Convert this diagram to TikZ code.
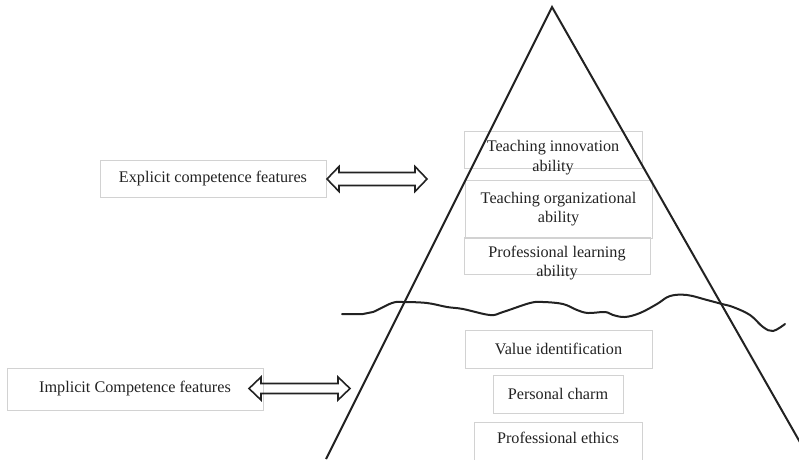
\documentclass[tikz,border=0pt]{standalone}
\usepackage{fontspec}
\setmainfont{Liberation Serif}
\usetikzlibrary{calc}
\definecolor{boxline}{HTML}{D2D2D2}
\definecolor{ink}{HTML}{222222}
% hollow two-headed arrow between two named points:
% #1 left end, #2 right end, #3 head half width, #4 shaft half width
\newcommand\twowayarrow[4]{%
  \draw[dbl] (#1) -- ($(#1)+(12,-#3)$) -- ($(#1)+(12,-#4)$)
    -- ($(#2)+(-12,-#4)$) -- ($(#2)+(-12,-#3)$) -- (#2)
    -- ($(#2)+(-12,#3)$) -- ($(#2)+(-12,#4)$)
    -- ($(#1)+(12,#4)$) -- ($(#1)+(12,#3)$) -- cycle;}
\begin{document}
\begin{tikzpicture}[x=1pt,y=-1pt,
  box/.style={draw=boxline, line width=0.9pt, inner sep=0pt},
  lbl/.style={text=ink, font=\fontsize{16.2}{19.5}\selectfont, align=center, inner sep=0pt},
  edge/.style={line width=2pt, draw=ink, line join=miter},
  dbl/.style={line width=1.6pt, draw=ink, line join=miter}]
\useasboundingbox (0,0) rectangle (799,459);
\clip (0,0) rectangle (799,459);

% side labels
\node[box, lbl, minimum width=226, minimum height=37] (explicit) at (213,178.5) {Explicit competence features};
\node[box, lbl, minimum width=256, minimum height=42] (implicit) at (135,389) {Implicit Competence features};

% above the waterline
\node[box, minimum width=178, minimum height=37] (innovbox) at (553,149.5) {};
\node[lbl] (innov) at (553,157.5) {Teaching innovation\\ability};
\node[box, lbl, minimum width=187, minimum height=58] (organ) at (558.5,209) {Teaching organizational\\ability};
\node[box, minimum width=186, minimum height=37] (learnbox) at (557,255.5) {};
\node[lbl] (learn) at (557,263) {Professional learning\\ability};

% below the waterline
\node[box, lbl, minimum width=187, minimum height=38] (value) at (558.5,349) {Value identification};
\node[box, lbl, minimum width=130, minimum height=38] (charm) at (558,394) {Personal charm};
\node[box, minimum width=168, minimum height=60, anchor=north] (ethicsbox) at (558,422) {};
\node[lbl] (ethics) at (558,438) {Professional ethics};

% the pyramid
\coordinate (apex) at (552,7);
\coordinate (baseL) at (326,459);
\coordinate (baseR) at (801,444);
\draw[edge] (baseL) -- (apex) -- (baseR);

% waterline
\draw[line width=2pt, draw=ink, line cap=round] plot[smooth, tension=0.6] coordinates {
  (342,314) (363,314) (373,312) (392,303) (403,302) (427,303) (447,307)
  (463,309) (490,315) (503,312) (530,303) (543,302) (563,304) (577,310)
  (588,313) (605,312) (613,315) (625,317) (640,313) (657,304) (670,296)
  (687,295) (707,300) (722,304) (733,307) (750,315) (763,327) (773,331)
  (785,324)};

% arrows linking the labels to the pyramid
\coordinate (exA) at (327,179);
\coordinate (exB) at (427,179);
\twowayarrow{exA}{exB}{12.5}{6.5}
\coordinate (imA) at (249,388.5);
\coordinate (imB) at (350,388.5);
\twowayarrow{imA}{imB}{11.5}{5}
\end{tikzpicture}
\end{document}
